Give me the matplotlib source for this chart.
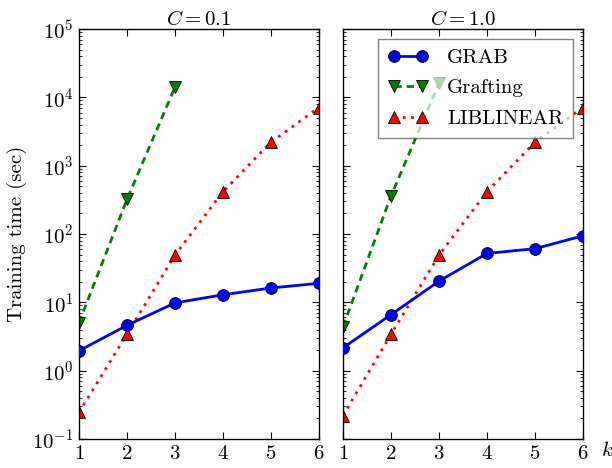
import matplotlib
matplotlib.use("Agg")
import matplotlib.pyplot as plt

k = [1, 2, 3, 4, 5, 6]
k_graft = [1, 2, 3]

titles = ["$C=0.1$", "$C=1.0$"]
grab = [[1.95, 4.6, 9.8, 12.9, 16.2, 19.0],
        [2.16, 6.6, 20.4, 52.0, 61.0, 94.0]]
grafting = [[5.0, 320.0, 14000.0],
            [4.4, 360.0, 16000.0]]
liblinear = [[0.245, 3.4, 49.0, 415.0, 2200.0, 7100.0],
             [0.22, 3.4, 49.0, 415.0, 2200.0, 7100.0]]

FS = 15
plt.rcParams['font.family'] = 'serif'
plt.rcParams['font.serif'] = ['cmr10', 'DejaVu Serif']
plt.rcParams['mathtext.fontset'] = 'cm'
plt.rcParams['axes.formatter.use_mathtext'] = True
plt.rcParams['font.size'] = FS
plt.rcParams['axes.unicode_minus'] = False

fig = plt.figure(figsize=(6.12, 4.68), dpi=100)
axes = [fig.add_axes([0.129, 0.062, 0.392, 0.876]),
        fig.add_axes([0.5605, 0.062, 0.392, 0.876])]

for i, ax in enumerate(axes):
    ax.plot(k, grab[i], marker='o', ls='-', color='blue', lw=2, ms=8.5,
            mec='black', mew=0.6, label='GRAB', zorder=3)
    ax.plot(k_graft, grafting[i], marker='v', ls=(0, (2.6, 1.8)), color='green',
            lw=2, ms=9, mec='black', mew=0.6, label='Grafting', zorder=2)
    ax.plot(k, liblinear[i], marker='^', ls=(0, (1, 2)), color='red', lw=2, ms=9,
            mec='black', mew=0.6, label='LIBLINEAR', zorder=2)
    ax.set_yscale('log')
    ax.set_ylim(1e-1, 1e5)
    ax.set_xlim(1, 6)
    ax.set_xticks(k)
    ax.set_title(titles[i], fontsize=FS, pad=3)
    ax.tick_params(which='both', direction='in', top=True, right=True)
    ax.tick_params(which='major', length=5, width=0.8, labelsize=FS)
    ax.tick_params(axis='x', which='major', pad=4.5)
    ax.tick_params(axis='y', which='major', pad=4)
    ax.tick_params(which='minor', length=2.5, width=0.6)
    for s in ax.spines.values():
        s.set_linewidth(1.0)

axes[1].tick_params(labelleft=False)
axes[0].set_ylabel('Training time (sec)', fontsize=FS)
axes[0].yaxis.set_label_coords(-0.217, 0.5)
axes[1].text(1.1, -0.027, '$k$', transform=axes[1].transAxes, fontsize=FS,
             ha='center', va='center')

leg = axes[1].legend(loc='upper right', numpoints=2, fancybox=False, framealpha=0.7,
                     edgecolor='0.3', fontsize=FS, handlelength=1.95,
                     borderpad=0.45, labelspacing=0.58, handletextpad=0.9,
                     borderaxespad=0.0, bbox_to_anchor=(0.958, 0.976))
leg.get_frame().set_linewidth(1.0)

fig.savefig('out.png', dpi=100)
